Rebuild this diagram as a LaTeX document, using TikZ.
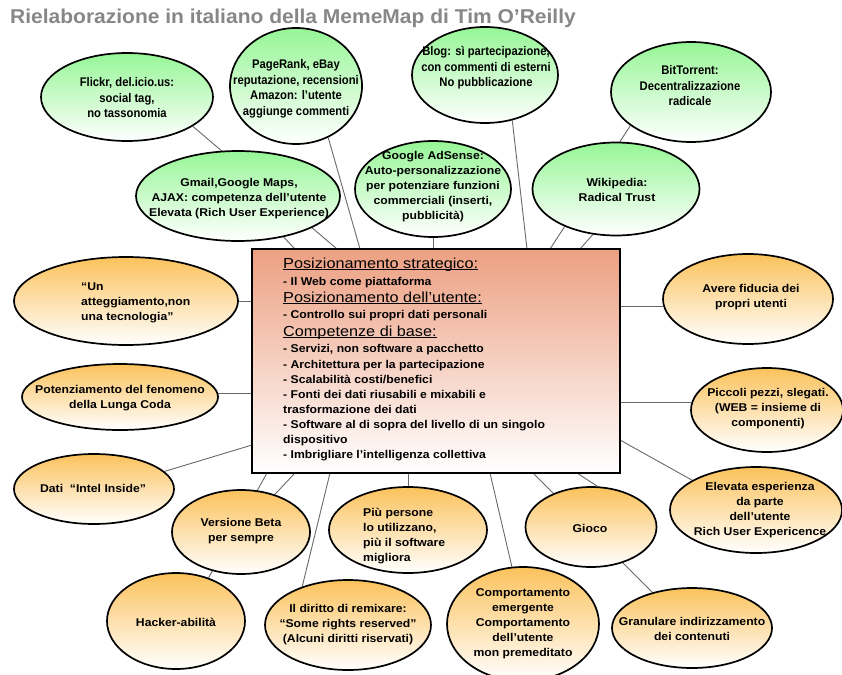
\documentclass[tikz,border=0pt]{standalone}
\usepackage{fontspec}
\setmainfont{Liberation Sans}
\newfontfamily\bodyf[FakeStretch=1.08]{Liberation Sans}
\newfontfamily\narrowf[FakeStretch=0.9]{Liberation Sans}
\newfontfamily\headf[FakeStretch=1.12]{Liberation Sans}
\newfontfamily\titlef[FakeStretch=1.05]{Liberation Sans}
\usetikzlibrary{shapes.geometric}
\pgfdeclarelayer{background}
\pgfsetlayers{background,main}
\definecolor{gtop}{RGB}{150,246,150}
\definecolor{otop}{RGB}{251,194,92}
\definecolor{btop}{RGB}{236,160,130}
\definecolor{conn}{RGB}{105,105,105}
\definecolor{titlegray}{RGB}{135,135,135}
\newcommand{\myul}[1]{\setbox0\hbox{#1}\rlap{\copy0}\rule[-2.3pt]{\wd0}{0.9pt}}
\begin{document}
\begin{tikzpicture}[x=1pt,y=-1pt,
 bub/.style={ellipse, draw=black, line width=1.7pt, inner sep=0pt},
 gbub/.style={bub, top color=gtop, bottom color=white},
 obub/.style={bub, top color=otop, bottom color=white},
 txt/.style={inner sep=0pt, align=center, font=\bodyf\bfseries\fontsize{11.3}{15}\selectfont},
 ntxt/.style={inner sep=0pt, align=center, font=\narrowf\bfseries\fontsize{12.5}{15.5}\selectfont},
 btxt/.style={inner sep=0pt, anchor=base west, font=\bodyf\bfseries\fontsize{11.3}{13}\selectfont},
 htxt/.style={inner sep=0pt, anchor=base west, font=\headf\fontsize{14.5}{16}\selectfont},
 link/.style={draw=conn, line width=0.9pt}]
\useasboundingbox (0,0) rectangle (842,674);
\begin{pgfonlayer}{background}
\fill[white] (0,0) rectangle (842,674);
\end{pgfonlayer}

\node[inner sep=0pt, anchor=base west, font=\titlef\bfseries\fontsize{20}{24}\selectfont, text=titlegray] (title) at (10,24) {Rielaborazione in italiano della MemeMap di Tim O’Reilly};

% central box
\node[draw=black, line width=2.8pt, minimum width=368pt, minimum height=224pt, inner sep=0pt, outer sep=0pt, top color=btop, bottom color=white] (box) at (436,361) {};

% green bubbles
\node[gbub, minimum width=172pt, minimum height=88pt] (flickr) at (127,97) {};
\node[gbub, minimum width=132pt, minimum height=116pt] (pagerank) at (296,86) {};
\node[gbub, minimum width=146pt, minimum height=96pt] (blog) at (485,75) {};
\node[gbub, minimum width=160pt, minimum height=100pt] (bittorrent) at (691,92) {};
\node[gbub, minimum width=204pt, minimum height=90pt] (gmail) at (238,196) {};
\node[gbub, minimum width=156pt, minimum height=96pt] (adsense) at (433,189) {};
\node[gbub, minimum width=167pt, minimum height=93pt] (wiki) at (616,189) {};

% orange bubbles
\node[obub, minimum width=224pt, minimum height=88pt] (atteg) at (126,301) {};
\node[obub, minimum width=196pt, minimum height=66pt] (potenz) at (120,397) {};
\node[obub, minimum width=160pt, minimum height=70pt] (dati) at (94,489) {};
\node[obub, minimum width=138pt, minimum height=84pt] (beta) at (241,532) {};
\node[obub, minimum width=138pt, minimum height=96pt] (hacker) at (176,621) {};
\node[obub, minimum width=158pt, minimum height=86pt] (piu) at (408,530) {};
\node[obub, minimum width=166pt, minimum height=90pt] (diritto) at (348,625) {};
\node[obub, minimum width=152pt, minimum height=114pt] (comp) at (523,624) {};
\node[obub, minimum width=131pt, minimum height=80pt] (gioco) at (591,527) {};
\node[obub, minimum width=160pt, minimum height=80pt] (gran) at (692,628) {};
\node[obub, minimum width=172pt, minimum height=86pt] (elev) at (756,510) {};
\node[obub, minimum width=170pt, minimum height=90pt] (fiducia) at (748,299) {};
\node[obub, minimum width=152pt, minimum height=84pt] (piccoli) at (767,410) {};

% connectors
\begin{pgfonlayer}{background}
\draw[link] (flickr.-24) -- ([xshift=85pt]box.north west);
\draw[link] (gmail.-42) -- ([xshift=43pt]box.north west);
\draw[link] (pagerank.-58) -- ([xshift=108pt]box.north west);
\draw[link] (adsense.south) -- (adsense.south |- box.north);
\draw[link] (blog.-59) -- ([xshift=275pt]box.north west);
\draw[link] (bittorrent.-151) -- ([xshift=298pt]box.north west);
\draw[link] (wiki.-117) -- ([xshift=328pt]box.north west);
\draw[link] (atteg.east) -- (atteg.east -| box.west);
\draw[link] (potenz.2.4) -- (potenz.2.4 -| box.west);
\draw[link] (dati.14) -- ([yshift=28pt]box.south west);
\draw[link] (hacker.53) -- ([xshift=15pt]box.south west);
\draw[link] (beta.48) -- ([xshift=43pt]box.south west);
\draw[link] (diritto.140) -- ([xshift=78pt]box.south west);
\draw[link] (piu.north) -- (piu.north |- box.south);
\draw[link] (comp.101) -- ([xshift=238pt]box.south west);
\draw[link] (gran.138) -- ([xshift=281pt]box.south west);
\draw[link] (gioco.81) -- ([xshift=325pt]box.south west);
\draw[link] (elev.155) -- ([yshift=33pt]box.south east);
\draw[link] (piccoli.174) -- (piccoli.174 -| box.east);
\draw[link] (fiducia.185) -- (fiducia.185 -| box.east);
\end{pgfonlayer}

% bubble texts
\node[ntxt] (flickrT) at (127,98) {Flickr, del.icio.us:\\social tag,\\no tassonomia};
\node[ntxt] (pagerankT) at (296,89) {PageRank, eBay\\reputazione, recensioni\\Amazon: l’utente\\aggiunge commenti};
\node[ntxt] (blogT) at (486,68) {Blog: sì partecipazione,\\con commenti di esterni\\No pubblicazione};
\node[ntxt] (bitT) at (690,86) {BitTorrent:\\Decentralizzazione\\radicale};
\node[txt] (gmailT) at (239,199) {Gmail,Google Maps,\\AJAX: competenza dell’utente\\Elevata (Rich User Experience)};
\node[txt] (adsenseT) at (433,187) {Google AdSense:\\Auto-personalizzazione\\per potenziare funzioni\\commerciali (inserti,\\pubblicità)};
\node[txt] (wikiT) at (617,190) {Wikipedia:\\Radical Trust};
\node[txt, align=left, anchor=west] (attegT) at (81,303) {“Un\\atteggiamento,non\\una tecnologia”};
\node[txt] (potenzT) at (120,398) {Potenziamento del fenomeno\\della Lunga Coda};
\node[txt] (datiT) at (93,488) {Dati\ \ “Intel Inside”};
\node[txt] (betaT) at (241,531) {Versione Beta\\per sempre};
\node[txt] (hackerT) at (176,622) {Hacker-abilità};
\node[txt, align=left, anchor=west] (piuT) at (363,536) {Più persone\\lo utilizzano,\\più il software\\migliora};
\node[txt] (dirittoT) at (348,625) {Il diritto di remixare:\\“Some rights reserved”\\(Alcuni diritti riservati)};
\node[txt] (compT) at (523,624) {Comportamento\\emergente\\Comportamento\\dell’utente\\mon premeditato};
\node[txt] (giocoT) at (590,528) {Gioco};
\node[txt] (granT) at (692,629) {Granulare indirizzamento\\dei contenuti};
\node[txt] (elevT) at (760,510) {Elevata esperienza\\da parte\\dell’utente\\Rich User Expericence};
\node[txt] (fiduciaT) at (751,297) {Avere fiducia dei\\propri utenti};
\node[txt] (piccoliT) at (768,409) {Piccoli pezzi, slegati.\\(WEB = insieme di\\componenti)};

% box texts
\node[htxt] (h1) at (283,268) {\myul{Posizionamento strategico:}};
\node[btxt] (b1) at (283,285) {- Il Web come piattaforma};
\node[htxt] (h2) at (283,302) {\myul{Posizionamento dell’utente:}};
\node[btxt] (b2) at (283,318) {- Controllo sui propri dati personali};
\node[htxt] (h3) at (283,336) {\myul{Competenze di base:}};
\node[btxt] (b3) at (283,352) {- Servizi, non software a pacchetto};
\node[btxt] (b4) at (283,368) {- Architettura per la partecipazione};
\node[btxt] (b5) at (283,383) {- Scalabilità costi/benefici};
\node[btxt] (b6) at (283,398) {- Fonti dei dati riusabili e mixabili e};
\node[btxt] (b7) at (283,413) {trasformazione dei dati};
\node[btxt] (b8) at (283,428) {- Software al di sopra del livello di un singolo};
\node[btxt] (b9) at (283,443) {dispositivo};
\node[btxt] (b10) at (283,458) {- Imbrigliare l’intelligenza collettiva};
\end{tikzpicture}
\end{document}
